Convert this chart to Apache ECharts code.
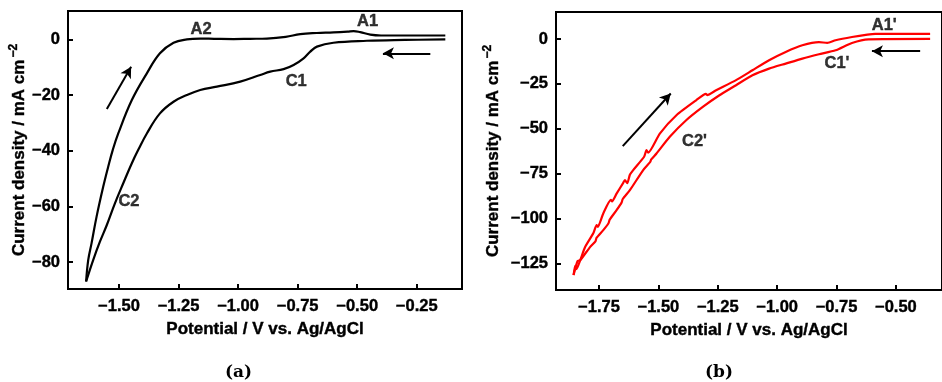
<!DOCTYPE html>
<html>
<head>
<meta charset="utf-8">
<script src="https://cdn.jsdelivr.net/npm/echarts@6/dist/echarts.min.js"></script>
<style>html,body{margin:0;padding:0;background:#fff}#c{width:942px;height:382px}</style>
</head>
<body>
<div id="c"></div>
<script>
// ---- Panel (a): black CV ----
const aCathV = [-0.13, -0.30, -0.459, -0.60, -0.669, -0.697, -0.725, -0.767, -0.809, -0.865, -0.907, -0.991, -1.089, -1.159, -1.215, -1.271, -1.328, -1.383, -1.419, -1.446, -1.482, -1.517, -1.551, -1.580, -1.608, -1.638];
const aCathI = [0, -0.2, -0.5, -1.2, -2.6, -4.4, -6.8, -9.2, -10.7, -11.6, -12.8, -15.2, -17.0, -18.2, -20.0, -22.4, -26.6, -33.8, -39.7, -44.5, -51.7, -58.9, -66.7, -72.7, -79.2, -87.0];
const aAnodV = [-1.638, -1.629, -1.615, -1.594, -1.566, -1.545, -1.526, -1.503, -1.446, -1.383, -1.328, -1.271, -1.215, -1.159, -1.10, -1.019, -0.95, -0.879, -0.80, -0.739, -0.67, -0.599, -0.54, -0.515, -0.487, -0.445, -0.40, -0.13];
const aAnodI = [-87.0, -79.2, -73.2, -63.7, -52.9, -45.7, -39.7, -33.8, -21.8, -12.2, -5.0, -1.2, 0, 0.3, 0.2, 0.1, 0.2, 0.3, 0.9, 1.9, 2.3, 2.5, 2.8, 3.0, 2.6, 1.7, 1.4, 1.4];
const aXTicks = [-1.5, -1.25, -1.0, -0.75, -0.5, -0.25];
const aYTicks = [-80, -60, -40, -20, 0];
const aLabels = [['A2', -1.155, 3.7], ['A1', -0.456, 6.6], ['C1', -0.756, -15.2], ['C2', -1.458, -58.1]];
const aArrows = [[-1.551, -25.0, -1.449, -9.8], [-0.193, -5.0, -0.392, -5.0]];

// ---- Panel (b): red CV ----
const bCathV = [-0.356, -0.615, -0.685, -0.754, -0.824, -0.894, -0.964, -1.034, -1.104, -1.173, -1.243, -1.313, -1.383, -1.452, -1.508, -1.53, -1.535, -1.564, -1.620, -1.65, -1.655, -1.676, -1.705, -1.71, -1.732, -1.76, -1.765, -1.787, -1.829, -1.840, -1.857];
const bCathI = [0, -0.2, -2.2, -6.3, -8.5, -10.9, -13.7, -16.5, -20.2, -25.7, -31.3, -37.8, -45.2, -54.4, -63.7, -67.0, -68.5, -72.9, -84.1, -89.0, -91.0, -95.2, -100.5, -102.5, -106.3, -110.5, -112.5, -115.6, -123.0, -123.5, -131.3];
const bAnodV = [-1.857, -1.850, -1.845, -1.829, -1.808, -1.774, -1.760, -1.755, -1.732, -1.70, -1.695, -1.676, -1.648, -1.641, -1.631, -1.620, -1.606, -1.560, -1.550, -1.543, -1.494, -1.424, -1.341, -1.300, -1.295, -1.257, -1.173, -1.104, -1.034, -0.964, -0.894, -0.824, -0.789, -0.754, -0.685, -0.620, -0.587, -0.356];
const bAnodI = [-131.3, -126.0, -128.0, -123.0, -115.6, -108.1, -103.5, -104.5, -97.0, -89.5, -90.3, -86.0, -80.0, -78.5, -80.2, -75.5, -72.9, -65.5, -61.8, -63.2, -52.6, -42.4, -34.1, -30.5, -31.2, -28.5, -22.9, -17.4, -11.8, -7.2, -3.5, -1.7, -2.2, -0.7, 1.1, 2.4, 2.8, 2.8];
const bXTicks = [-1.75, -1.5, -1.25, -1.0, -0.75, -0.5];
const bYTicks = [-125, -100, -75, -50, -25, 0];
const bLabels = [["A1'", -0.549, 7.6], ["C1'", -0.748, -13.7], ["C2'", -1.348, -56.8]];
const bArrows = [[-1.650, -59.6, -1.448, -30.3], [-0.398, -6.8, -0.601, -6.8]];

const zip = (xs, ys) => xs.map((x, i) => [x, ys[i]]);
const FONT = 'Liberation Sans';
const minus = v => String(v).replace('-', '\u2212');
const TB = { textBorderColor: '#000', textBorderWidth: 0.4 };

const xRange = [[-1.714, -0.06], [-1.931, -0.306]];
const yRange = [[-89.7, 10.2], [-139.6, 15]];

function xAxisCfg(gi, ticks) {
  return {
    type: 'value', gridIndex: gi, min: xRange[gi][0], max: xRange[gi][1],
    name: 'Potential / V vs. Ag/AgCl', nameLocation: 'middle', nameGap: 32,
    nameTextStyle: Object.assign({ fontFamily: FONT, fontWeight: 'bold', fontSize: 17, color: '#000' }, TB),
    axisLine: { show: true, onZero: false, lineStyle: { color: '#000', width: 2 } },
    axisTick: { show: true, inside: true, length: 5, lineStyle: { color: '#000', width: 2 }, customValues: ticks },
    axisLabel: Object.assign({ fontFamily: FONT, fontWeight: 'bold', fontSize: 16.5, color: '#000', margin: 9,
      customValues: ticks, formatter: v => minus(v.toFixed(2)) }, TB),
    splitLine: { show: false }
  };
}
function yAxisCfg(gi, ticks, gap) {
  return {
    type: 'value', gridIndex: gi, min: yRange[gi][0], max: yRange[gi][1],
    name: 'Current density / mA cm{sup|\u22122}', nameLocation: 'middle', nameGap: gap,
    nameTextStyle: Object.assign({ fontFamily: FONT, fontWeight: 'bold', fontSize: 17, color: '#000',
      rich: { sup: Object.assign({ fontFamily: FONT, fontWeight: 'bold', fontSize: 12, color: '#000', verticalAlign: 'top', padding: [0, 0, 10, 2] }, TB) } }, TB),
    axisLine: { show: true, onZero: false, lineStyle: { color: '#000', width: 2 } },
    axisTick: { show: true, inside: true, length: 5, lineStyle: { color: '#000', width: 2 }, customValues: ticks },
    axisLabel: Object.assign({ fontFamily: FONT, fontWeight: 'bold', fontSize: 16.5, color: '#000', margin: 8,
      customValues: ticks, formatter: v => minus(Math.round(v)) }, TB),
    splitLine: { show: false }
  };
}
function labelSeries(gi, labels) {
  return {
    type: 'scatter', xAxisIndex: gi, yAxisIndex: gi, symbolSize: 1,
    itemStyle: { color: 'rgba(0,0,0,0)' }, silent: true,
    data: labels.map(l => ({ name: l[0], value: [l[1], l[2]] })),
    label: Object.assign({ show: true, position: 'inside', formatter: '{b}', fontFamily: FONT, fontWeight: 'bold', fontSize: 16.5, color: '#000' }, TB),
    markLine: {
      silent: true, symbol: ['none', 'arrow'], symbolSize: [9, 11],
      lineStyle: { color: '#000', width: 2, type: 'solid' }, label: { show: false },
      animation: false,
      data: (gi === 0 ? aArrows : bArrows).map(a => [{ coord: [a[0], a[1]] }, { coord: [a[2], a[3]] }])
    }
  };
}
function cvSeries(gi, data, color, smooth) {
  return {
    type: 'line', xAxisIndex: gi, yAxisIndex: gi, data: data, showSymbol: false,
    smooth: smooth, lineStyle: { color: color, width: 2.2 }, itemStyle: { color: color }, silent: true
  };
}

const chart = echarts.init(document.getElementById('c'), null, { renderer: 'canvas' });
chart.setOption({
  animation: false,
  backgroundColor: '#fff',
  grid: [
    { left: 68, top: 11, width: 394, height: 278, show: true, borderColor: '#000', borderWidth: 2, backgroundColor: 'transparent' },
    { left: 556, top: 12, width: 388, height: 278, show: true, borderColor: '#000', borderWidth: 2, backgroundColor: 'transparent' }
  ],
  xAxis: [xAxisCfg(0, aXTicks), xAxisCfg(1, bXTicks)],
  yAxis: [yAxisCfg(0, aYTicks, 38), yAxisCfg(1, bYTicks, 52)],
  series: [
    cvSeries(0, zip(aCathV, aCathI), '#000', 0.4),
    cvSeries(0, zip(aAnodV, aAnodI), '#000', 0.4),
    labelSeries(0, aLabels),
    cvSeries(1, zip(bCathV, bCathI), '#ff0000', 0.2),
    cvSeries(1, zip(bAnodV, bAnodI), '#ff0000', 0.2),
    labelSeries(1, bLabels)
  ],
  graphic: [
    { type: 'text', left: 225, top: 364, style: { text: '(a)', font: 'bold 17px "DejaVu Serif"', fill: '#000' } },
    { type: 'text', left: 705, top: 364, style: { text: '(b)', font: 'bold 17px "DejaVu Serif"', fill: '#000' } }
  ]
});
</script>
</body>
</html>
